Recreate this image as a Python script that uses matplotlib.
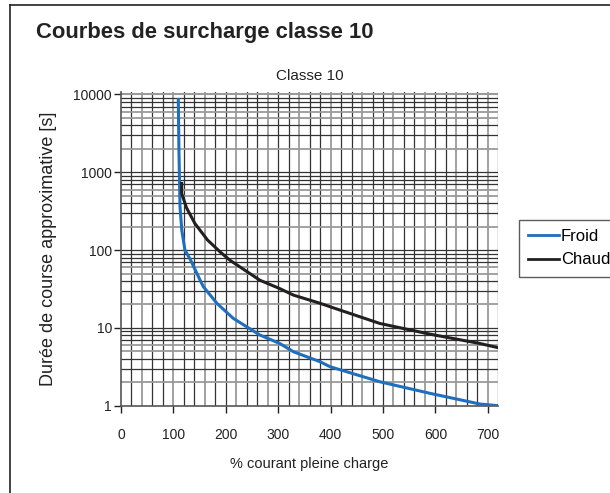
import matplotlib
matplotlib.use("Agg")
import matplotlib.pyplot as plt
import numpy as np
from matplotlib.lines import Line2D

plt.rcParams['font.family'] = ['Liberation Sans', 'DejaVu Sans']

# Data
froid_x = [109.4, 110.5, 112.6, 116, 122, 133, 151, 157, 183, 214, 265, 303, 329, 380, 399, 494, 590, 685, 720]
froid_y = [8630, 2000, 360, 180, 100, 74, 41, 34, 20.7, 13.3, 8.1, 6.3, 4.94, 3.67, 3.17, 2.03, 1.44, 1.05, 1.0]
chaud_x = [115.8, 115.8, 125, 141, 165, 189, 208, 265, 303, 329, 380, 399, 494, 590, 685, 720]
chaud_y = [719, 535, 350, 220, 135, 95, 74, 41, 32, 26.4, 20.7, 18.7, 11.4, 8.3, 6.3, 5.56]
x_ticks = [0, 100, 200, 300, 400, 500, 600, 700]
y_ticks = [1, 10, 100, 1000, 10000]
series_names = ["Froid", "Chaud"]

W, H = 610, 493
fig = plt.figure(figsize=(W / 100, H / 100), dpi=100)

def fx(px):
    return px / W

def fy(py):
    return 1 - py / H

# outer border (left and top only visible)
fig.add_artist(Line2D([fx(10), fx(10)], [fy(4.5), 0], color='#222222', lw=1.2, transform=fig.transFigure))
fig.add_artist(Line2D([fx(10), 1], [fy(4.5), fy(4.5)], color='#222222', lw=1.2, transform=fig.transFigure))

left, right, top, bottom = 121, 498.3, 91.5, 405.7
ax = fig.add_axes([fx(left), fy(bottom), fx(right) - fx(left), fy(top) - fy(bottom)])
ax.set_yscale('log')
ytop = 10 ** (4 + 3 / 78.0)
ax.set_ylim(1, ytop)
ax.set_xlim(0, 720)

# grid: vertical every 20
for i, gx in enumerate(range(20, 721, 20)):
    col = '#9a9a9a' if i % 3 == 1 else '#333333'
    lw = 1.3 if col == '#9a9a9a' else 0.9
    ax.plot([gx, gx], [1, ytop], color=col, lw=lw, zorder=1)
# horizontal: decades and minor
for d in range(4):
    for m in range(1, 10):
        gy = m * 10 ** d
        if gy == 1:
            continue
        col = '#9a9a9a' if m in (2, 5, 6) else '#333333'
        lw = 1.3 if col == '#9a9a9a' else 0.9
        ax.plot([0, 720], [gy, gy], color=col, lw=lw, zorder=1)
ax.plot([0, 720], [10000, 10000], color='#9a9a9a', lw=1.5, zorder=1)

l1, = ax.plot(froid_x, froid_y, color='#1f6fbf', lw=2.2, zorder=3, label=series_names[0])
l2, = ax.plot(chaud_x, chaud_y, color='#231f20', lw=2.2, zorder=3, label=series_names[1])

for s in ['top', 'right']:
    ax.spines[s].set_visible(False)
ax.spines['left'].set_color('#555555')
ax.spines['bottom'].set_color('#555555')
ax.spines['left'].set_linewidth(1.2)
ax.spines['bottom'].set_linewidth(1.2)

ax.set_xticks(x_ticks)
ax.set_xticklabels([str(v) for v in x_ticks])
ax.set_yticks(y_ticks)
ax.set_yticklabels([str(v) for v in y_ticks])
ax.yaxis.set_minor_locator(matplotlib.ticker.NullLocator())
ax.tick_params(axis='both', labelsize=10, colors='#222222', length=5, width=1.0, direction='out')
ax.tick_params(axis='x', pad=11)
ax.tick_params(axis='y', pad=1.5)
ax.set_xlabel("% courant pleine charge", fontsize=10.5, color='#222222', labelpad=11)
ax.set_ylabel("Durée de course approximative [s]", fontsize=13, color='#222222', labelpad=12)
ax.set_title("Classe 10", fontsize=11, color='#222222', pad=8)

fig.text(fx(36), fy(38), "Courbes de surcharge classe 10", fontsize=15.8, fontweight='bold',
         color='#222222', ha='left', va='baseline')

leg = fig.legend(handles=[l1, l2], labels=series_names, loc='upper left',
                 bbox_to_anchor=(fx(519), fy(220)), frameon=True, fancybox=False,
                 fontsize=12, handlelength=1.85, handletextpad=0.12, borderpad=0.55,
                 labelspacing=0.5, borderaxespad=0)
leg.get_frame().set_edgecolor('#333333')
leg.get_frame().set_linewidth(1.0)
for l in leg.get_lines():
    l.set_linewidth(2.0)

fig.savefig("out.png", dpi=100)
